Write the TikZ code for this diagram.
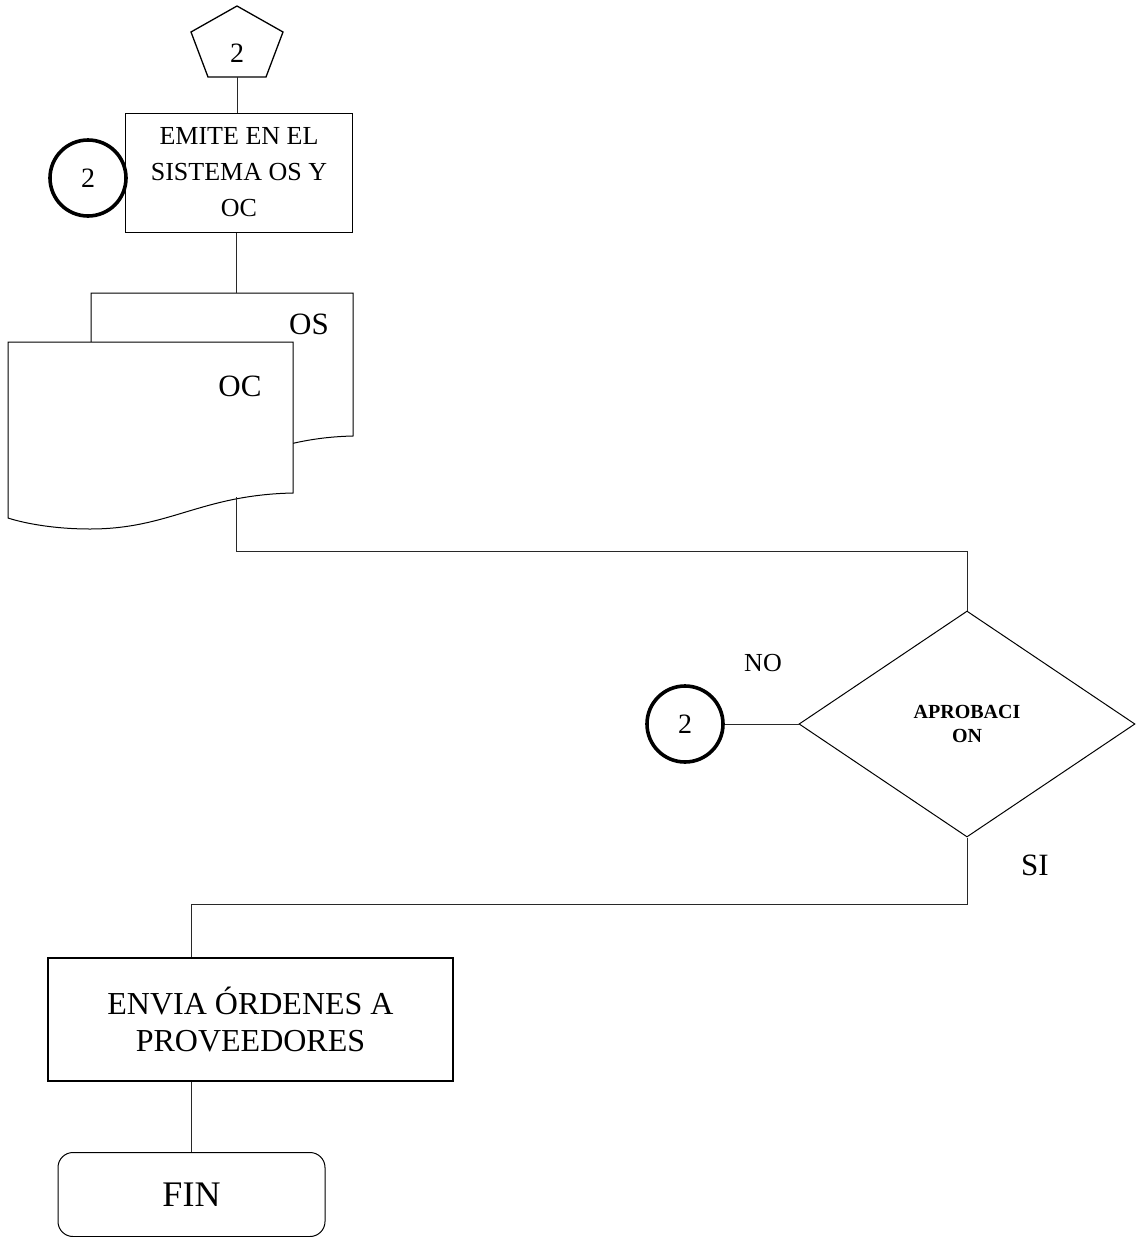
\documentclass[tikz,border=0pt]{standalone}
\usepackage{fontspec}
\setmainfont{Liberation Serif}
\usetikzlibrary{shapes.geometric}
\definecolor{FlowLine}{RGB}{40,40,40}

\tikzset{
  proceso/.style={draw=black, line width=1pt, fill=white, align=center, inner sep=0pt},
  conector/.style={draw=black, circle, line width=3.6pt, fill=white, minimum size=76pt,
    inner sep=0pt, font=\fontsize{28}{30}\selectfont},
  enlace/.style={draw=FlowLine, line width=1pt},
  documento/.style={draw=black, line width=1pt, fill=white},
}

\begin{document}
\begin{tikzpicture}[x=1pt, y=-1pt]
\useasboundingbox (0,0) rectangle (1138,1237);

% conector de pagina
\draw[line width=1.3pt, line join=miter]
  (237,6) -- (283,32) -- (266,77) -- (208,77) -- (191,32) -- cycle;
\node[font=\fontsize{28}{30}\selectfont] (pagina) at (237,53) {2};
\coordinate (paginab) at (237,77);

\node[
  proceso,
  minimum width=227pt,
  minimum height=119pt,
  font=\fontsize{26}{36}\selectfont
] (emite) at (239,172.5) {EMITE EN EL\\SISTEMA OS Y\\OC};
\node[conector] (retorno) at (88,178) {2};
\draw[enlace] (paginab) -- (paginab |- emite.north);

% documentos OS y OC
\draw[documento] (91,293) -- (353,293) -- (353,436)
  .. controls (268,438) and (240,470) .. (166,470)
  .. controls (130,470) and (102,465) .. (91,461) -- cycle;
\draw[documento] (8,342) -- (293,342) -- (293,493)
  .. controls (200,495) and (170,529) .. (90,529)
  .. controls (50,529) and (20,522) .. (8,518) -- cycle;
\node[font=\fontsize{31}{33}\selectfont] (os) at (309,324) {OS};
\node[font=\fontsize{31}{33}\selectfont] (oc) at (240,386) {OC};
\coordinate (osdoc) at (236,293);
\coordinate (ocdoc) at (236,497);
\draw[enlace] (emite.south -| osdoc) -- (osdoc);

% decision
\node[
  draw=black,
  diamond,
  line width=1pt,
  minimum width=336pt,
  minimum height=226pt,
  inner sep=0pt,
  align=center,
  font=\bfseries\fontsize{20}{24}\selectfont
] (aprob) at (967,724) {APROBACI\\ON};
\coordinate (giro1) at (236,551);
\draw[enlace] (ocdoc) -- (giro1) -| (aprob.north);

\node[conector] (no2) at (685,724) {2};
\draw[enlace] (no2) -- (aprob.west);
\node[font=\fontsize{26}{28}\selectfont] (etqno) at (763,663) {NO};
\node[font=\fontsize{31}{33}\selectfont] (etqsi) at (1035,865) {SI};

\node[
  proceso,
  line width=1.5pt,
  minimum width=405pt,
  minimum height=123pt,
  font=\fontsize{32}{37}\selectfont
] (envia) at (250.5,1019.5) {ENVIA ÓRDENES A\\PROVEEDORES};
\coordinate (giro2) at (191,904);
\draw[enlace] (aprob.south) |- (giro2) -- (giro2 |- envia.north);

\node[
  proceso,
  rounded corners=15pt,
  minimum width=267pt,
  minimum height=84pt,
  font=\fontsize{36}{40}\selectfont
] (fin) at (191.5,1194.5) {FIN};
\draw[enlace] (fin.north |- envia.south) -- (fin.north);
\end{tikzpicture}
\end{document}
